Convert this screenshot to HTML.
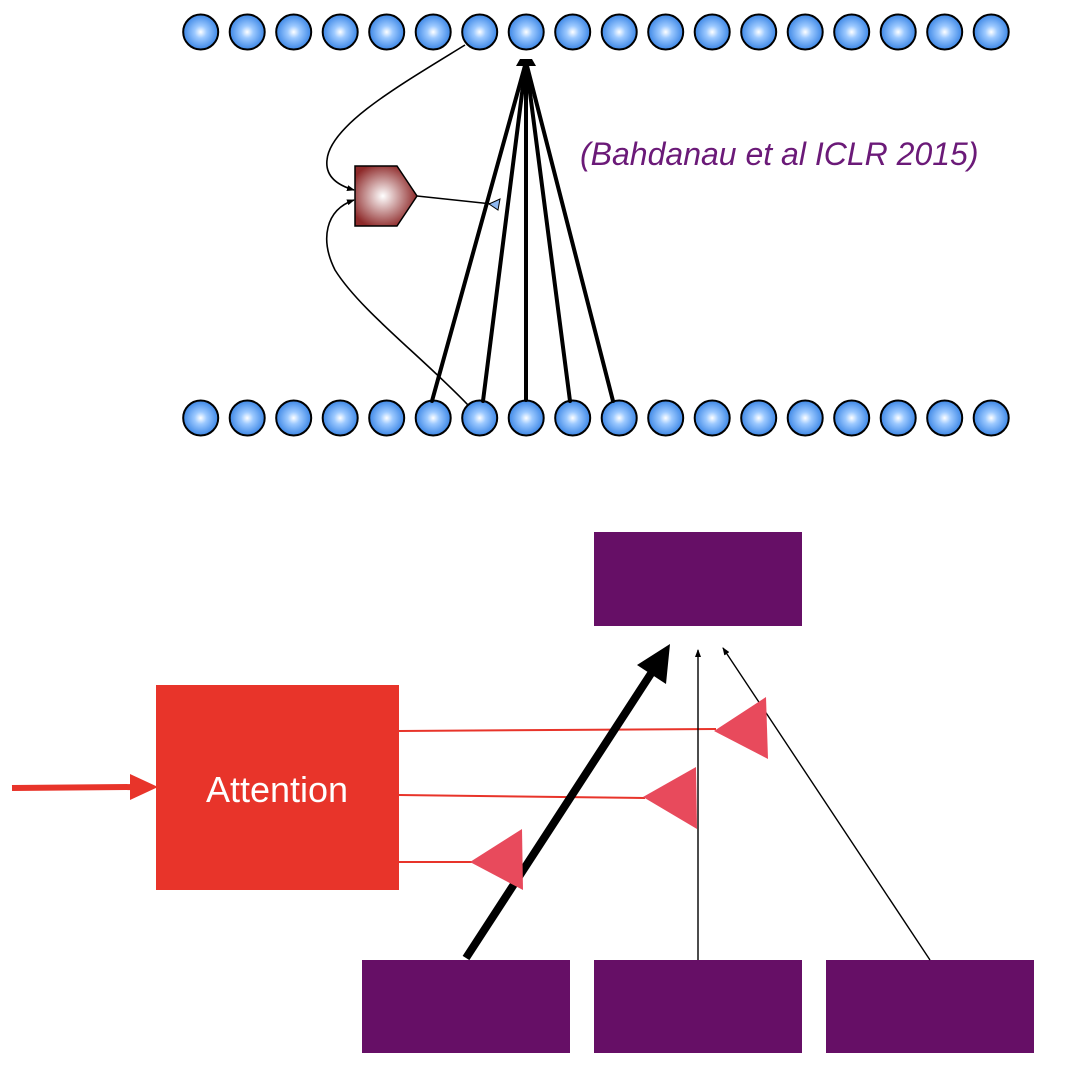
<!DOCTYPE html>
<html><head><meta charset="utf-8"><style>
html,body{margin:0;padding:0;background:#fff;width:1080px;height:1071px;overflow:hidden}
</style></head><body>
<svg width="1080" height="1071" viewBox="0 0 1080 1071" xmlns="http://www.w3.org/2000/svg">
<defs>
<radialGradient id="cg" cx="50%" cy="50%" r="50%">
<stop offset="0" stop-color="#ffffff"/><stop offset="0.35" stop-color="#9cc9ff"/><stop offset="1" stop-color="#3d87e6"/>
</radialGradient>
<radialGradient id="pg" cx="45%" cy="50%" r="55%">
<stop offset="0" stop-color="#ffffff"/><stop offset="1" stop-color="#8e2a2a"/>
</radialGradient>
<marker id="ah" markerWidth="10" markerHeight="10" refX="9" refY="5" orient="auto" markerUnits="userSpaceOnUse">
<path d="M0,1 L10,5 L0,9 Z" fill="#000"/></marker>
<marker id="ahs" markerWidth="8" markerHeight="8" refX="7" refY="4" orient="auto" markerUnits="userSpaceOnUse">
<path d="M0,1 L8,4 L0,7 Z" fill="#000"/></marker>
</defs>
<g stroke="#000" stroke-width="2" fill="url(#cg)">
<circle cx="200.7" cy="32" r="17.5"/><circle cx="247.2" cy="32" r="17.5"/><circle cx="293.7" cy="32" r="17.5"/><circle cx="340.2" cy="32" r="17.5"/><circle cx="386.7" cy="32" r="17.5"/><circle cx="433.2" cy="32" r="17.5"/><circle cx="479.7" cy="32" r="17.5"/><circle cx="526.2" cy="32" r="17.5"/><circle cx="572.7" cy="32" r="17.5"/><circle cx="619.2" cy="32" r="17.5"/><circle cx="665.7" cy="32" r="17.5"/><circle cx="712.2" cy="32" r="17.5"/><circle cx="758.7" cy="32" r="17.5"/><circle cx="805.2" cy="32" r="17.5"/><circle cx="851.7" cy="32" r="17.5"/><circle cx="898.2" cy="32" r="17.5"/><circle cx="944.7" cy="32" r="17.5"/><circle cx="991.2" cy="32" r="17.5"/>
<circle cx="200.7" cy="418" r="17.5"/><circle cx="247.2" cy="418" r="17.5"/><circle cx="293.7" cy="418" r="17.5"/><circle cx="340.2" cy="418" r="17.5"/><circle cx="386.7" cy="418" r="17.5"/><circle cx="433.2" cy="418" r="17.5"/><circle cx="479.7" cy="418" r="17.5"/><circle cx="526.2" cy="418" r="17.5"/><circle cx="572.7" cy="418" r="17.5"/><circle cx="619.2" cy="418" r="17.5"/><circle cx="665.7" cy="418" r="17.5"/><circle cx="712.2" cy="418" r="17.5"/><circle cx="758.7" cy="418" r="17.5"/><circle cx="805.2" cy="418" r="17.5"/><circle cx="851.7" cy="418" r="17.5"/><circle cx="898.2" cy="418" r="17.5"/><circle cx="944.7" cy="418" r="17.5"/><circle cx="991.2" cy="418" r="17.5"/>
</g>
<g stroke="#000" stroke-width="4" fill="none" stroke-linecap="round">
<line x1="526" y1="62" x2="432" y2="401"/>
<line x1="526" y1="62" x2="483" y2="401"/>
<line x1="526" y1="62" x2="526" y2="400"/>
<line x1="526" y1="62" x2="570" y2="401"/>
<line x1="526" y1="62" x2="613" y2="401"/>
</g>
<path d="M516,66 L520,59 L532,59 L536,66 Z" fill="#000"/>
<g stroke="#000" stroke-width="1.6" fill="none">
<path d="M465,45 C400,85 330,125 327,160 C325,178 340,186 354,190" marker-end="url(#ahs)"/>
<path d="M468,405 C420,355 360,310 335,270 C320,240 325,210 354,200" marker-end="url(#ahs)"/>
<line x1="417" y1="196" x2="492" y2="204"/>
</g>
<path d="M355,166 L397,166 L417,196 L397,226 L355,226 Z" fill="url(#pg)" stroke="#000" stroke-width="1.5"/>
<path d="M489,204 L500,199 L498,210 Z" fill="#8fb8f0" stroke="#000" stroke-width="1"/>
<text x="580" y="165" font-family="Liberation Sans, sans-serif" font-style="italic" font-size="32" fill="#6b1a78">(Bahdanau et al ICLR 2015)</text>

<rect x="594" y="532" width="208" height="94" fill="#660F66"/>
<rect x="362" y="960" width="208" height="93" fill="#660F66"/>
<rect x="594" y="960" width="208" height="93" fill="#660F66"/>
<rect x="826" y="960" width="208" height="93" fill="#660F66"/>
<rect x="156" y="685" width="243" height="205" fill="#E8342A"/>
<text x="277" y="802" text-anchor="middle" font-family="Liberation Sans, sans-serif" font-size="36" fill="#fff">Attention</text>
<line x1="12" y1="788" x2="135" y2="787" stroke="#E8342A" stroke-width="6"/>
<path d="M130,774 L158,787 L130,800 Z" fill="#E8342A"/>
<g stroke="#E8342A" stroke-width="2">
<line x1="399" y1="731" x2="716" y2="729"/>
<line x1="399" y1="795" x2="645" y2="798"/>
<line x1="399" y1="862" x2="472" y2="862"/>
</g>
<line x1="466" y1="958" x2="652" y2="672" stroke="#000" stroke-width="8"/>
<path d="M670,644 L666,684 L637,665 Z" fill="#000"/>
<g stroke="#000" stroke-width="1.4">
<line x1="698" y1="960" x2="698" y2="650" marker-end="url(#ahs)"/>
<line x1="930" y1="960" x2="723" y2="648" marker-end="url(#ahs)"/>
</g>
<g fill="#E84A5C">
<path d="M714,731 L766,697 L768,759 Z"/>
<path d="M643,797 L696,767 L697,829 Z"/>
<path d="M470,862 L522,829 L523,890 Z"/>
</g>
</svg>
</body></html>
